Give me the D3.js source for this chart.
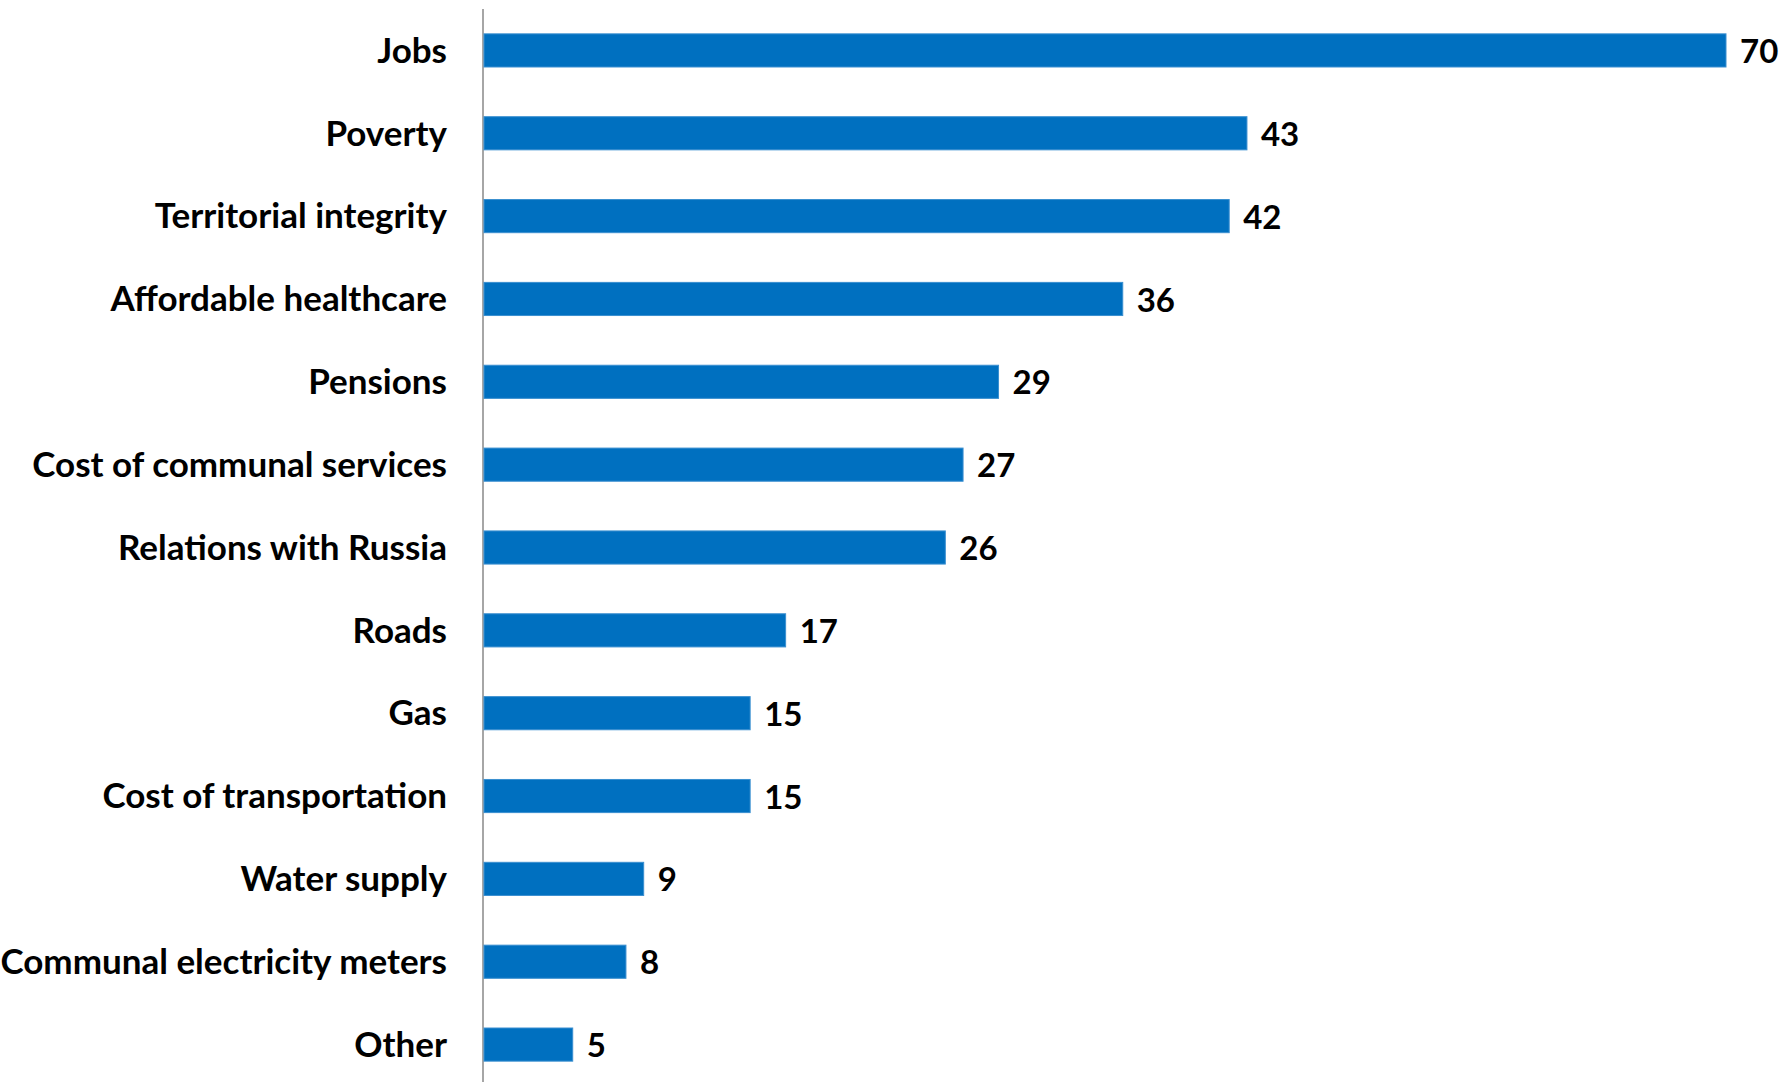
<!DOCTYPE html>
<html>
<head>
<meta charset="utf-8">
<script src="https://cdn.jsdelivr.net/npm/d3@7"></script>
<style>
  html, body { margin: 0; padding: 0; background: #ffffff; }
  svg { display: block; }
  text { font-family: Lato, "Open Sans", sans-serif; font-weight: 700; fill: #000; }
</style>
</head>
<body>
<script>
const categories = ["Jobs", "Poverty", "Territorial integrity", "Affordable healthcare", "Pensions",
  "Cost of communal services", "Relations with Russia", "Roads", "Gas", "Cost of transportation",
  "Water supply", "Communal electricity meters", "Other"];
const values = [70, 43, 42, 36, 29, 27, 26, 17, 15, 15, 9, 8, 5];

const W = 1781, H = 1082;
const svg = d3.select("body").append("svg").attr("width", W).attr("height", H);

const x = d3.scaleLinear().domain([0, 70]).range([484, 1726]);
const y = d3.scaleBand().domain(categories).range([9, 1086]).paddingInner(0.6).paddingOuter(0.3);

// category axis line
svg.append("line")
  .attr("x1", 483).attr("x2", 483)
  .attr("y1", 9).attr("y2", 1086)
  .attr("stroke", "#a6a6a6").attr("stroke-width", 2);

const data = categories.map((c, i) => ({ c, v: values[i] }));

svg.selectAll("rect.bar").data(data).join("rect")
  .attr("class", "bar")
  .attr("x", x(0))
  .attr("y", d => y(d.c))
  .attr("width", d => x(d.v) - x(0))
  .attr("height", y.bandwidth())
  .attr("fill", "#0070c0")
  .attr("stroke", "#3a8fd0").attr("stroke-width", 1);

svg.selectAll("text.cat").data(data).join("text")
  .attr("class", "cat")
  .attr("x", 447)
  .attr("y", d => y(d.c) + y.bandwidth() / 2)
  .attr("dy", "0.35em")
  .attr("text-anchor", "end")
  .style("font-size", "35px")
  .text(d => d.c);

svg.selectAll("text.val").data(data).join("text")
  .attr("class", "val")
  .attr("x", d => x(d.v) + 14)
  .attr("y", d => y(d.c) + y.bandwidth() / 2 + 1)
  .attr("dy", "0.35em")
  .attr("text-anchor", "start")
  .style("font-size", "33px")
  .text(d => d.v);
</script>
</body>
</html>
